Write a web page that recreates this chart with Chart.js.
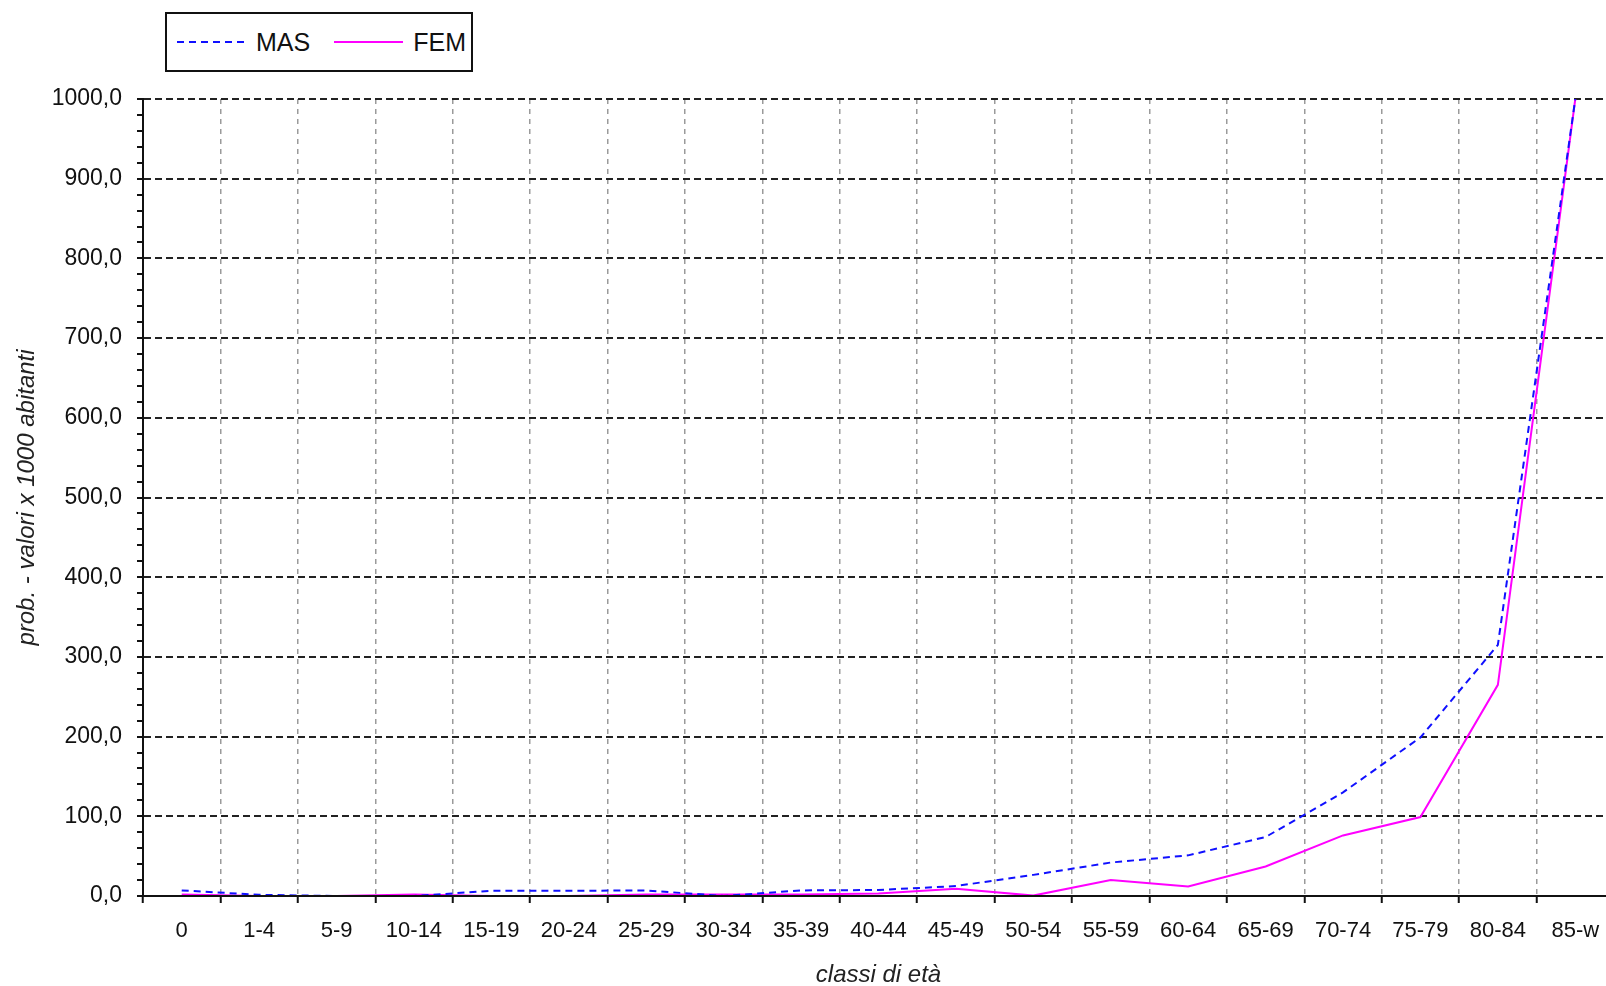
<!DOCTYPE html>
<html lang="it">
<head>
<meta charset="utf-8">
<title>prob. - valori x 1000 abitanti</title>
<script src="https://cdn.jsdelivr.net/npm/chart.js@4/dist/chart.umd.min.js"></script>
<style>
  html, body { margin: 0; padding: 0; overflow: hidden; background: #fff; }
  #wrap { position: relative; width: 1606px; height: 986px; overflow: hidden; }
  #chart { position: absolute; left: 0; top: 0; }
  #legend {
    position: absolute; left: 165px; top: 12px; width: 308px; height: 60px;
    box-sizing: border-box; border: 2px solid #111; background: #fff;
    display: flex; align-items: center; padding-left: 10px;
    font-family: "Liberation Sans", Arial, sans-serif; font-size: 25px; color: #111;
  }
  #legend .item { display: flex; align-items: center; margin-right: 24px; }
  #legend svg { margin-right: 10px; }
</style>
</head>
<body>
<div id="wrap">
  <canvas id="chart" width="1620" height="986"></canvas>
  <div id="legend"></div>
</div>
<script>
// ============================================================
// DATA
// ============================================================
const categories = ['0', '1-4', '5-9', '10-14', '15-19', '20-24', '25-29', '30-34', '35-39', '40-44',
  '45-49', '50-54', '55-59', '60-64', '65-69', '70-74', '75-79', '80-84', '85-w'];
const masValues = [7, 1.5, 0, 0, 6.5, 6.5, 7, 0, 7, 7.5, 12.5, 26.5, 42, 51, 74, 130, 199, 315, 1000];
const femValues = [2, 0, 0, 2, 0, 0, 2, 2, 2, 3, 9, 0.5, 20, 12, 37, 76, 99, 265, 1000];
const yTicksMajor = [0, 100, 200, 300, 400, 500, 600, 700, 800, 900, 1000];
const yMinorStep = 20;

const FONT = '"Liberation Sans", Arial, sans-serif';

// ============================================================
// CHART
// ============================================================
const fmtValue = v => v.toFixed(1).replace('.', ',');
const isMajor = v => yTicksMajor.includes(Math.round(v));

const chart = new Chart(document.getElementById('chart'), {
  type: 'line',
  data: {
    labels: categories,
    datasets: [
      {
        label: 'MAS',
        data: masValues,
        borderColor: '#1010ff',
        borderWidth: 2,
        borderDash: [7, 5],
        pointRadius: 0,
        tension: 0,
        fill: false,
      },
      {
        label: 'FEM',
        data: femValues,
        borderColor: '#ff00ff',
        borderWidth: 2,
        pointRadius: 0,
        tension: 0,
        fill: false,
      },
    ],
  },
  options: {
    responsive: false,
    animation: false,
    layout: { padding: { top: 99, left: 0, right: 6, bottom: 0 } },
    plugins: { legend: { display: false }, tooltip: { enabled: false } },
    scales: {
      x: {
        type: 'category',
        offset: true,
        afterFit: s => { s.height = 90; },
        grid: {
          offset: true,
          color: '#9a9a9a',
          lineWidth: 1.5,
          tickColor: '#111',
          tickLength: 7,
          tickWidth: 2,
        },
        border: { display: true, color: '#111', width: 2, dash: [5, 5], z: 1 },
        ticks: {
          color: '#111',
          padding: 15,
          maxRotation: 0,
          autoSkip: false,
          font: { family: FONT, size: 22 },
        },
        title: {
          display: true,
          text: 'classi di età',
          color: '#222',
          padding: { top: 0, bottom: 0 },
          font: { family: FONT, size: 24, style: 'italic', lineHeight: 0.9 },
        },
      },
      y: {
        min: yTicksMajor[0],
        max: yTicksMajor[yTicksMajor.length - 1],
        afterFit: s => { s.width = 143; },
        grid: {
          color: ctx => (ctx.tick && isMajor(ctx.tick.value) ? '#222' : 'rgba(0,0,0,0)'),
          lineWidth: ctx => (ctx.tick && isMajor(ctx.tick.value) ? 2 : 0),
          tickColor: '#111',
          tickLength: 6,
          tickWidth: 2,
        },
        border: { display: true, color: '#111', width: 2, dash: [7, 4], z: 1 },
        ticks: {
          stepSize: yMinorStep,
          autoSkip: false,
          padding: 15,
          color: '#111',
          font: { family: FONT, size: 23 },
          callback: v => (isMajor(v) ? fmtValue(v) : ''),
        },
        title: {
          display: true,
          text: 'prob. - valori x 1000 abitanti',
          color: '#222',
          padding: { top: 13, bottom: 0 },
          font: { family: FONT, size: 24, style: 'italic' },
        },
      },
    },
  },
});

// ============================================================
// LEGEND (html, built from the datasets)
// ============================================================
function buildLegend() {
  const box = document.getElementById('legend');
  box.innerHTML = '';
  chart.data.datasets.forEach(ds => {
    const item = document.createElement('div');
    item.className = 'item';
    const dash = (ds.borderDash || []).join(' ');
    item.innerHTML =
      `<svg width="69" height="6"><line x1="0" y1="3" x2="69" y2="3" stroke="${ds.borderColor}"` +
      ` stroke-width="${ds.borderWidth}" ${dash ? `stroke-dasharray="${dash}"` : ''}/></svg>` +
      `<span>${ds.label}</span>`;
    box.appendChild(item);
  });
}
buildLegend();
</script>
</body>
</html>
